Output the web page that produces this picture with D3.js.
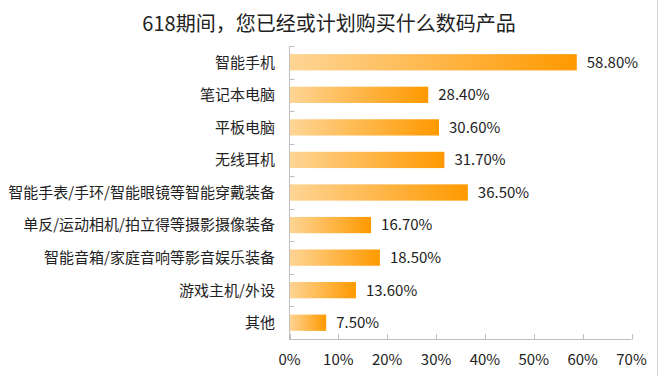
<!DOCTYPE html>
<html><head><meta charset="utf-8">
<script src="https://cdn.jsdelivr.net/npm/d3@7"></script>
<style>body{margin:0;background:#fff}svg{display:block}</style>
</head><body>
<script>
const title = "618期间，您已经或计划购买什么数码产品";
const categories = ["智能手机","笔记本电脑","平板电脑","无线耳机","智能手表/手环/智能眼镜等智能穿戴装备","单反/运动相机/拍立得等摄影摄像装备","智能音箱/家庭音响等影音娱乐装备","游戏主机/外设","其他"];
const values = [58.8,28.4,30.6,31.7,36.5,16.7,18.5,13.6,7.5];
const xTicks = [0,10,20,30,40,50,60,70];

const W=660,H=376;
const font = "'Microsoft YaHei','Noto Sans CJK SC',sans-serif";
const svg = d3.select("body").append("svg").attr("width",W).attr("height",H);
svg.append("line").attr("x1",657.5).attr("x2",657.5).attr("y1",0).attr("y2",H).attr("stroke","#d0d0d0");

const defs = svg.append("defs");
const g = defs.append("linearGradient").attr("id","gr").attr("x1","0").attr("x2","1").attr("y1","0").attr("y2","0");
g.append("stop").attr("offset","0").attr("stop-color","#fed595");
g.append("stop").attr("offset","1").attr("stop-color","#ff9900");

const x = d3.scaleLinear().domain([0,70]).range([289.5,631.5]);
const y = d3.scaleBand().domain(categories).range([46,339]).paddingInner(0.5).paddingOuter(0.25);

svg.append("text").attr("x",329).attr("y",31).attr("text-anchor","middle")
  .attr("font-family",font).attr("font-size",20).attr("fill","#222").text(title);

svg.selectAll("rect.bar").data(values).enter().append("rect").attr("class","bar")
  .attr("x",x(0)).attr("y",(d,i)=>y(categories[i]))
  .attr("width",d=>x(d)-x(0)).attr("height",y.bandwidth())
  .attr("fill","url(#gr)");

svg.selectAll("text.val").data(values).enter().append("text").attr("class","val")
  .attr("x",d=>x(d)+10).attr("y",(d,i)=>y(categories[i])+y.bandwidth()/2)
  .attr("dy","0.36em").attr("font-family",font).attr("font-size",15).attr("fill","#222")
  .text(d=>d.toFixed(2)+"%");

// axes
const axisColor="#bfbfbf";
const step = (339-46)/categories.length;
const yb = d3.range(categories.length+1).map(i=>46+i*step);
svg.append("line").attr("x1",x(0)).attr("x2",x(0)).attr("y1",46).attr("y2",339).attr("stroke",axisColor);
svg.selectAll("line.yt").data(yb).enter().append("line").attr("class","yt")
  .attr("x1",x(0)).attr("x2",x(0)+5).attr("y1",d=>Math.round(d)+0.5).attr("y2",d=>Math.round(d)+0.5).attr("stroke",axisColor);
svg.selectAll("text.cat").data(categories).enter().append("text").attr("class","cat")
  .attr("x",275).attr("y",d=>y(d)+y.bandwidth()/2).attr("dy","0.36em").attr("text-anchor","end")
  .attr("font-family",font).attr("font-size",15).attr("fill","#222").text(d=>d);

svg.append("line").attr("x1",x(0)).attr("x2",x(70)).attr("y1",339.5).attr("y2",339.5).attr("stroke",axisColor);
svg.selectAll("line.xt").data(xTicks).enter().append("line").attr("class","xt")
  .attr("x1",d=>Math.round(x(d))+0.5).attr("x2",d=>Math.round(x(d))+0.5).attr("y1",334).attr("y2",339.5).attr("stroke",axisColor);
svg.selectAll("text.xl").data(xTicks).enter().append("text").attr("class","xl")
  .attr("x",d=>x(d)).attr("y",365).attr("text-anchor","middle")
  .attr("font-family",font).attr("font-size",15).attr("fill","#222").text(d=>d+"%");
</script>
</body></html>
